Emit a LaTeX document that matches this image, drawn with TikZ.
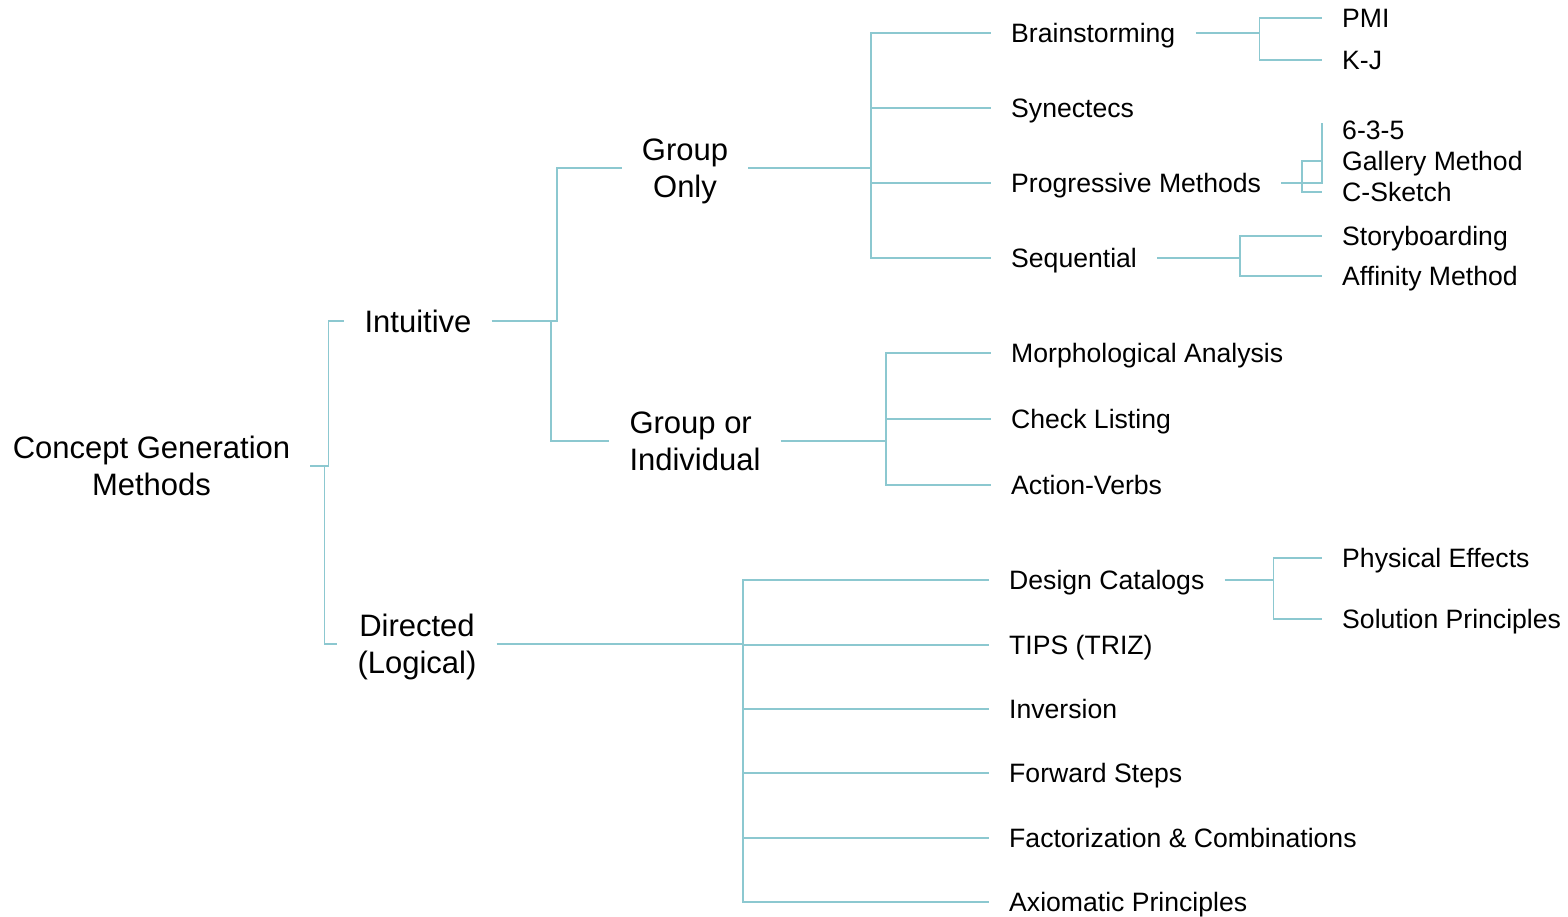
\documentclass[tikz,border=0pt]{standalone}
\usepackage{fontspec}
\setmainfont{Liberation Sans}
\definecolor{linkc}{RGB}{140,200,208}
\begin{document}
\begin{tikzpicture}[x=1pt,y=-1pt,
  lk/.style={draw=linkc, line width=1.8pt},
  sm/.style={font=\fontsize{26.6}{31}\selectfont, inner xsep=20pt, inner ysep=0pt, text height=19.2pt, text depth=0pt, anchor=west},
  bg/.style={font=\fontsize{31}{37}\selectfont, inner xsep=20pt, inner ysep=0pt, text height=22.3pt, text depth=0pt},
  bgtwo/.style={bg, align=center, text height=59.3pt, text depth=0pt}]
\useasboundingbox (0,0) rectangle (1568,916);
% level 0-2
\node[bgtwo] (root) at (151.5,466) {Concept Generation\\Methods};
\node[bg] (intuitive) at (418,321) {Intuitive};
\node[bgtwo] (directed) at (417,644) {Directed\\(Logical)};
\node[bgtwo] (grouponly) at (685,168) {Group\\Only};
\node[bgtwo, align=left] (groupind) at (695,441) {Group or\\Individual};
% group only children
\node[sm] (brain) at (991,33) {Brainstorming};
\node[sm] (syn) at (991,108) {Synectecs};
\node[sm] (prog) at (991,183) {Progressive Methods};
\node[sm] (seq) at (991,258) {Sequential};
\node[sm] (pmi) at (1322,18) {PMI};
\node[sm] (kj) at (1322,60) {K-J};
\node[sm] (six) at (1322,130) {6-3-5};
\node[sm] (gal) at (1322,161) {Gallery Method};
\node[sm] (csk) at (1322,192) {C-Sketch};
\node[sm] (story) at (1322,236) {Storyboarding};
\node[sm] (aff) at (1322,276) {Affinity Method};
% group or individual children
\node[sm] (morph) at (991,353) {Morphological Analysis};
\node[sm] (check) at (991,419) {Check Listing};
\node[sm] (action) at (991,485) {Action-Verbs};
% directed children
\node[sm] (design) at (989,580) {Design Catalogs};
\node[sm] (tips) at (989,645) {TIPS (TRIZ)};
\node[sm] (inv) at (989,709) {Inversion};
\node[sm] (fwd) at (989,773) {Forward Steps};
\node[sm] (fact) at (989,838) {Factorization \& Combinations};
\node[sm] (axi) at (989,902) {Axiomatic Principles};
\node[sm] (phys) at (1322,558) {Physical Effects};
\node[sm] (sol) at (1322,619) {Solution Principles};
% connectors
\draw[lk] (root.east) -- ++(18,0) |- (intuitive.west);
\draw[lk] (root.east) ++(14,0) |- (directed.west);
\draw[lk] (intuitive.east) -- ++(65,0) |- (grouponly.west);
\draw[lk] (intuitive.east) ++(59,0) |- (groupind.west);
\draw[lk] (grouponly.east) -- ++(123,0) coordinate (gj);
\foreach \c in {brain,syn,prog,seq} \draw[lk] (gj) |- (\c.west);
\draw[lk] (groupind.east) -- ++(105.5,0) coordinate (ij);
\foreach \c in {morph,check,action} \draw[lk] (ij) |- (\c.west);
\draw[lk] (directed.east) -- ++(246.6,0) coordinate (dj);
\foreach \c in {design,tips,inv,fwd,fact,axi} \draw[lk] (dj) |- (\c.west);
\draw[lk] (brain.east) -- ++(64,0) coordinate (bj);
\foreach \c in {pmi,kj} \draw[lk] (bj) |- (\c.west);
\draw[lk] (seq.east) -- ++(83,0) coordinate (sj);
\foreach \c in {story,aff} \draw[lk] (sj) |- (\c.west);
\draw[lk] (design.east) -- ++(49,0) coordinate (cj);
\foreach \c in {phys,sol} \draw[lk] (cj) |- (\c.west);
\draw[lk] (prog.east) -| ([yshift=-3pt]six.north west);
\draw[lk] (gal.west) -- ++(-20,0) |- (csk.west);
\end{tikzpicture}
\end{document}
